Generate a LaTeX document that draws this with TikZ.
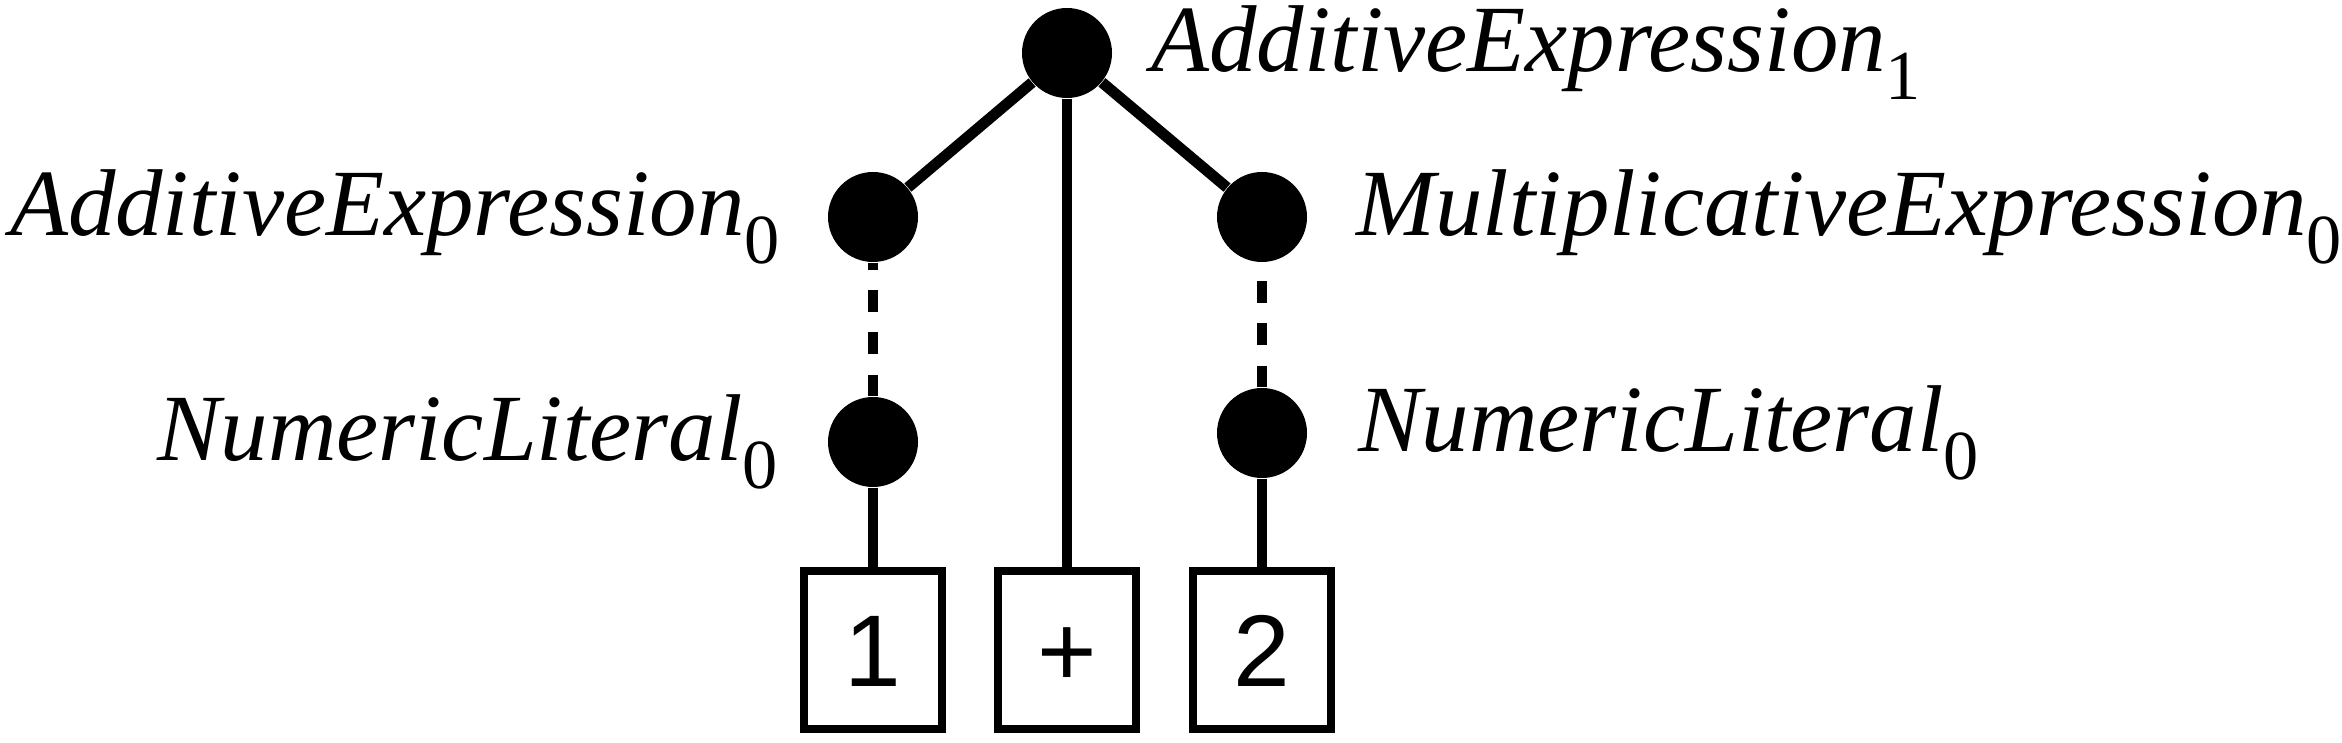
\documentclass[tikz,border=0pt]{standalone}
\usepackage{fontspec}
\setmainfont{Liberation Serif}
\setsansfont{Liberation Sans}
\usetikzlibrary{positioning}
\newcommand{\treesub}[1]{\raisebox{-8pt}{\upshape\fontsize{20}{20}\selectfont #1}}

\begin{document}
\begin{tikzpicture}[
    dot/.style={on grid, circle, fill, inner sep=0pt, minimum size=0.9cm},
    leaf/.style={on grid, draw, line width=2.1pt, inner sep=0pt, minimum width=1.38cm, minimum height=1.58cm,
                 font=\sffamily\fontsize{29}{30}\selectfont, text height=20.8pt, text depth=0pt},
    lbl/.style={inner sep=0pt, font=\fontsize{27}{32}\selectfont\itshape},
    edge/.style={line width=3.1pt},
    link/.style={edge, dash pattern=on 6.2pt off 5.8pt}
]
\useasboundingbox (0,0) rectangle (23.42,7.42);
\node[dot] (root) at (10.67,6.89) {};
\node[dot, below left=1.64cm and 1.94cm of root] (ae) {};
\node[dot, below right=1.64cm and 1.95cm of root] (me) {};
\node[dot, below=2.25cm of ae] (nll) {};
\node[dot, below=2.16cm of me] (nlr) {};
\node[leaf, below=2.08cm of nll] (one) {1};
\node[leaf, below=5.97cm of root] (plus) {+};
\node[leaf, below=2.17cm of nlr] (two) {2};

\node[lbl, right=0.38cm of root] (rootlbl) {AdditiveExpression\treesub{1}};
\node[lbl, left=0.47cm of ae] (aelbl) {AdditiveExpression\treesub{0}};
\node[lbl, right=0.48cm of me] (melbl) {MultiplicativeExpression\treesub{0}};
\node[lbl, left=0.49cm of nll] (nllbl) {NumericLiteral\treesub{0}};
\node[lbl, right=0.5cm of nlr] (nlrlbl) {NumericLiteral\treesub{0}};

\draw[edge] (root) -- (ae);
\draw[edge] (root) -- (plus);
\draw[edge] (root) -- (me);
\draw[link] (nll) -- (ae);
\draw[link] (nlr) -- (me);
\draw[edge] (nll) -- (one);
\draw[edge] (nlr) -- (two);
\end{tikzpicture}
\end{document}
